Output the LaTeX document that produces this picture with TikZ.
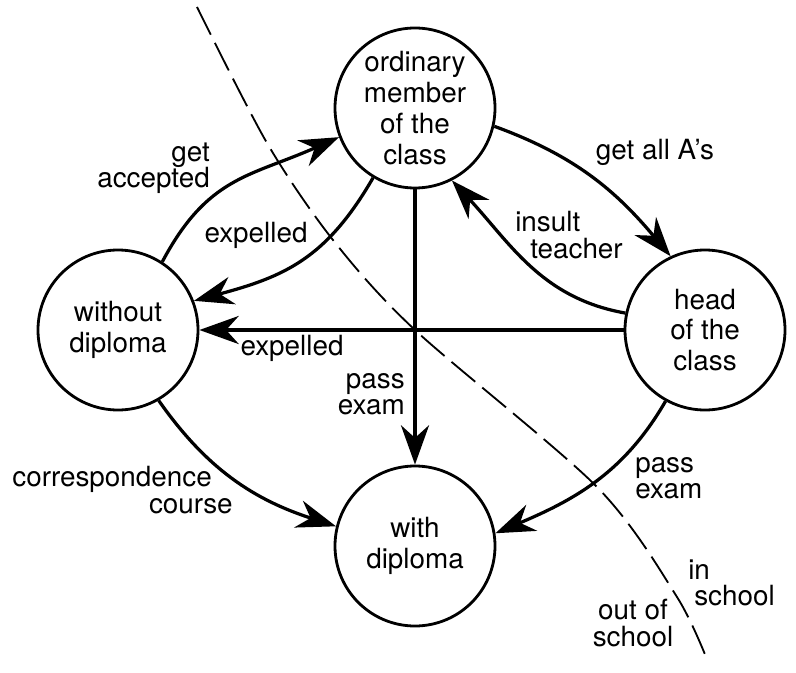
\documentclass[tikz,border=0pt]{standalone}
\usepackage{fontspec}
\setmainfont{TeX Gyre Heros}
\usetikzlibrary{arrows.meta}

\begin{document}
\begin{tikzpicture}
  \tikzset{state/.style={draw, circle, line width=2pt, minimum size=4cm, inner sep=0pt, align=center, font=\fontsize{19.8}{22}\selectfont},
    move/.style={-{Stealth[length=28pt, width=20pt, inset=9pt]}, line width=2.3pt},
    lbl/.style={font=\fontsize{19.8}{18.8}\selectfont, inner sep=0pt}}
  \useasboundingbox (-10.375,-8.55) rectangle (9.525,8.25);
  \node[state] (om) at (0, 5.55)   {ordinary\\member\\of the\\class};
  \node[state] (wo) at (-7.425, 0) {without\\diploma};
  \node[state] (hd) at (7.25, 0)   {head\\of the\\class};
  \node[state] (wd) at (0, -5.4)   {with\\diploma};
  \draw[move] (wo.57) to[out=62, in=204, looseness=1.15] (om.201);
  \draw[move] (om.239) to[out=240, in=15, looseness=1.1] (wo.21);
  \draw[move] (om.347) to[out=-20, in=130] (hd.115);
  \draw[move] (hd.168) to[out=170, in=313] (om.297);
  \draw[move] (wo.300) to[out=-55, in=162] (wd.166);
  \draw[move] (hd.241) to[out=240, in=23] (wd.9);
  \draw[move] (hd.west) -- (wo.east);
  \draw[move] (om.south) -- (wd.north);
  \node[lbl, anchor=east, align=right] (acc) at (-5.125, 4.05) {get\\accepted};
  \node[lbl] (exp1) at (-3.975, 2.375) {expelled};
  \node[lbl] (exp2) at (-3.075, -0.45) {expelled};
  \node[lbl, anchor=east, align=right] (pe1) at (-0.25, -1.6) {pass\\exam};
  \node[lbl, anchor=east, align=right] (cc) at (-4.55, -4.0) {correspondence\hspace*{0.525cm}\\course};
  \node[lbl] (ga) at (6.0, 4.45) {get all A’s};
  \node[lbl, anchor=west, align=left] (it) at (2.5, 2.375) {insult\\\hspace*{0.375cm}teacher};
  \node[lbl, anchor=west, align=left] (pe2) at (5.5, -3.7) {pass\\exam};
  \node[lbl, anchor=west, align=left] (ins) at (6.825, -6.325) {in\\\hspace*{0.15cm}school};
  \node[lbl, align=center] (outs) at (5.45, -7.325) {out of\\school};
  % school boundary
  \draw[line width=1.3pt, dash pattern=on 22pt off 6.5pt] plot[smooth] coordinates {(-5.45,8.075) (-3.7,4.675) (-2.05,2.25) (0,0) (4.55,-3.925) (6.55,-6.675) (7.325,-8.3)};
\end{tikzpicture}
\end{document}
